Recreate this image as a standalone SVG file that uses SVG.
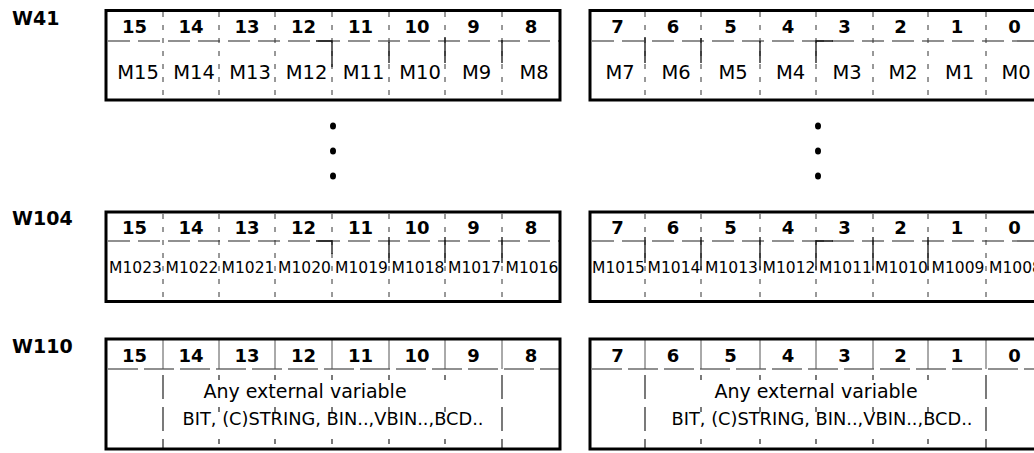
<svg xmlns="http://www.w3.org/2000/svg" width="1034" height="453" viewBox="0 0 1034 453">
<style>
.bg{fill:#fff}
.box{fill:none;stroke:#000;stroke-width:3}
.hl{stroke:#222;stroke-width:1.2;stroke-dasharray:22 8}
.hl3{stroke:#222;stroke-width:1.2;stroke-dasharray:30 6}
.vd{stroke:#333;stroke-width:1;stroke-dasharray:5 8}
.vs{fill:none;stroke:#111;stroke-width:1.3}
.vh{stroke:#555;stroke-width:1}
.vt{stroke:#222;stroke-width:1.2;stroke-dasharray:5 27}
.ve{stroke:#222;stroke-width:1.2;stroke-dasharray:24 8}
.w{font-family:"DejaVu Sans",sans-serif;font-weight:bold;font-size:19px;fill:#000}
.b{font-family:"DejaVu Sans",sans-serif;font-weight:bold;font-size:18px;fill:#000;text-anchor:middle}
.m{font-family:"DejaVu Sans",sans-serif;font-size:19.5px;fill:#000;text-anchor:middle}
.s{font-family:"DejaVu Sans",sans-serif;font-size:15.5px;fill:#000;text-anchor:middle}
.a{font-family:"DejaVu Sans",sans-serif;font-size:19px;fill:#000;text-anchor:middle}
.t{font-family:"DejaVu Sans",sans-serif;font-size:17.8px;fill:#000;text-anchor:middle}
.dot{fill:#000}
</style>
<rect class="bg" x="0" y="0" width="1034" height="453"/>

<g id="labels">
<text class="w" x="12" y="25">W41</text>
<text class="w" x="12" y="225">W104</text>
<text class="w" x="12" y="353">W110</text>
</g>

<g id="connectors">
<g id="row1-lines">
<line class="hl" x1="108" y1="41" x2="559" y2="41"/>
<line class="hl" x1="592" y1="41" x2="1034" y2="41"/>
<path class="vd" d="M163 12V99M219 12V99M275 12V99M332 12V99M389 12V99M445 12V99M502 12V99M645 12V99M701 12V99M760 12V99M816 12V99M873 12V99M928 12V99M986 12V99"/>
<path class="vs" d="M316 41H332V67M389 42V63M445 37V63M502 40V63M645 37V63M701 38V63M760 41V63M833 41H816V63"/>
</g>
<g id="row2-lines">
<line class="hl" x1="108" y1="241" x2="559" y2="241"/>
<line class="hl" x1="592" y1="241" x2="1034" y2="241"/>
<path class="vd" d="M163 214V300M219 214V300M275 214V300M332 214V300M389 214V300M445 214V300M502 214V300M645 214V300M701 214V300M760 214V300M816 214V300M873 214V300M928 214V300M986 214V300"/>
<path class="vs" d="M316 241H332V254M389 237V263M445 237V263M502 237V263M645 237V263M701 237V270M760 237V270M833 241H816V270M873 237V270M928 237V270"/>
</g>
<g id="row3-lines">
<line class="hl3" x1="108" y1="369" x2="559" y2="369"/>
<line class="hl3" x1="592" y1="369" x2="1034" y2="369"/>
<path class="vh" d="M163 340V369M219 340V369M275 340V369M332 340V369M389 340V369M445 340V369M502 340V369M645 340V369M701 340V369M760 340V369M816 340V369M873 340V369M928 340V369M986 340V369"/>
<path class="ve" d="M163 375V448M502 375V448M645 375V448M986 375V448"/>
<path class="vt" d="M219 375V448M275 375V448M332 375V448M389 375V448M445 375V448M701 375V448M760 375V448M816 375V448M873 375V448M928 375V448"/>
</g>
</g>

<g id="w41-high">
<rect class="box" x="106" y="10.5" width="454" height="89.5"/>
<text class="b" x="134.5" y="33">15</text><text class="b" x="191" y="33">14</text><text class="b" x="247" y="33">13</text><text class="b" x="303.5" y="33">12</text><text class="b" x="360.5" y="33">11</text><text class="b" x="417" y="33">10</text><text class="b" x="473.5" y="33">9</text><text class="b" x="531" y="33">8</text>
<text class="m" x="138" y="79">M15</text><text class="m" x="194" y="79">M14</text><text class="m" x="250" y="79">M13</text><text class="m" x="306.5" y="79">M12</text><text class="m" x="363.5" y="79">M11</text><text class="m" x="420" y="79">M10</text><text class="m" x="476.5" y="79">M9</text><text class="m" x="534" y="79">M8</text>
</g>
<g id="w41-low">
<rect class="box" x="590" y="10.5" width="453" height="89.5"/>
<text class="b" x="617.5" y="33">7</text><text class="b" x="673" y="33">6</text><text class="b" x="730.5" y="33">5</text><text class="b" x="788" y="33">4</text><text class="b" x="844.5" y="33">3</text><text class="b" x="900.5" y="33">2</text><text class="b" x="957" y="33">1</text><text class="b" x="1014.5" y="33">0</text>
<text class="m" x="620" y="79">M7</text><text class="m" x="676" y="79">M6</text><text class="m" x="733" y="79">M5</text><text class="m" x="790.5" y="79">M4</text><text class="m" x="847" y="79">M3</text><text class="m" x="903" y="79">M2</text><text class="m" x="959.5" y="79">M1</text><text class="m" x="1016" y="79">M0</text>
</g>

<g id="dots">
<ellipse class="dot" cx="333" cy="126" rx="3" ry="3.6"/>
<ellipse class="dot" cx="333" cy="151" rx="3" ry="3.6"/>
<ellipse class="dot" cx="333" cy="176" rx="3" ry="3.6"/>
<ellipse class="dot" cx="818" cy="126" rx="3" ry="3.6"/>
<ellipse class="dot" cx="818" cy="151" rx="3" ry="3.6"/>
<ellipse class="dot" cx="818" cy="176" rx="3" ry="3.6"/>
</g>

<g id="w104-high">
<rect class="box" x="106" y="212" width="454" height="89.5"/>
<text class="b" x="134.5" y="233.5">15</text><text class="b" x="191" y="233.5">14</text><text class="b" x="247" y="233.5">13</text><text class="b" x="303.5" y="233.5">12</text><text class="b" x="360.5" y="233.5">11</text><text class="b" x="417" y="233.5">10</text><text class="b" x="473.5" y="233.5">9</text><text class="b" x="531" y="233.5">8</text>
<text class="s" x="135.5" y="273">M1023</text><text class="s" x="192" y="273">M1022</text><text class="s" x="248" y="273">M1021</text><text class="s" x="304.5" y="273">M1020</text><text class="s" x="361.5" y="273">M1019</text><text class="s" x="418" y="273">M1018</text><text class="s" x="474.5" y="273">M1017</text><text class="s" x="532" y="273">M1016</text>
</g>
<g id="w104-low">
<rect class="box" x="590" y="212" width="453" height="89.5"/>
<text class="b" x="617.5" y="233.5">7</text><text class="b" x="673" y="233.5">6</text><text class="b" x="730.5" y="233.5">5</text><text class="b" x="788" y="233.5">4</text><text class="b" x="844.5" y="233.5">3</text><text class="b" x="900.5" y="233.5">2</text><text class="b" x="957" y="233.5">1</text><text class="b" x="1014.5" y="233.5">0</text>
<text class="s" x="618.5" y="273">M1015</text><text class="s" x="674" y="273">M1014</text><text class="s" x="731.5" y="273">M1013</text><text class="s" x="789" y="273">M1012</text><text class="s" x="845.5" y="273">M1011</text><text class="s" x="901.5" y="273">M1010</text><text class="s" x="958" y="273">M1009</text><text class="s" x="1015.5" y="273">M1008</text>
</g>

<g id="w110-high">
<rect class="box" x="106" y="339" width="454" height="110"/>
<text class="b" x="134.5" y="361.5">15</text><text class="b" x="191" y="361.5">14</text><text class="b" x="247" y="361.5">13</text><text class="b" x="303.5" y="361.5">12</text><text class="b" x="360.5" y="361.5">11</text><text class="b" x="417" y="361.5">10</text><text class="b" x="473.5" y="361.5">9</text><text class="b" x="531" y="361.5">8</text>
<text class="a" x="305" y="398">Any external variable</text>
<text class="t" x="333" y="425">BIT, (C)STRING, BIN..,VBIN..,BCD..</text>
</g>
<g id="w110-low">
<rect class="box" x="590" y="339" width="453" height="110"/>
<text class="b" x="617.5" y="361.5">7</text><text class="b" x="673" y="361.5">6</text><text class="b" x="730.5" y="361.5">5</text><text class="b" x="788" y="361.5">4</text><text class="b" x="844.5" y="361.5">3</text><text class="b" x="900.5" y="361.5">2</text><text class="b" x="957" y="361.5">1</text><text class="b" x="1014.5" y="361.5">0</text>
<text class="a" x="816" y="398">Any external variable</text>
<text class="t" x="822" y="425">BIT, (C)STRING, BIN..,VBIN..,BCD..</text>
</g>
</svg>
